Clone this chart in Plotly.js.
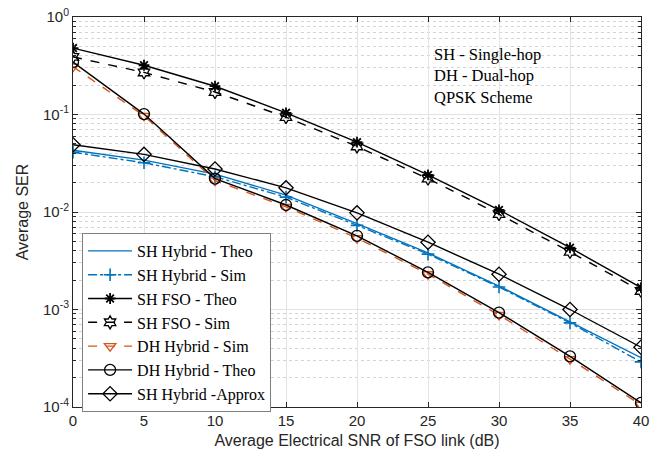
<!DOCTYPE html>
<html><head><meta charset="utf-8">
<script src="https://cdn.plot.ly/plotly-3.0.1.min.js"></script>
<style>body{margin:0;background:#fff}#c{width:656px;height:455px}</style>
</head><body><div id="c"></div>
<script>
const snr = [0,5,10,15,20,25,30,35,40];
const shHybridTheo = [0.043,0.034,0.0245,0.0149,0.0076,0.0038,0.00174,0.00075,0.00032];
const shHybridSim  = [0.041,0.032,0.023,0.0142,0.0073,0.0037,0.0017,0.00073,0.00029];
const shFsoTheo    = [0.48,0.32,0.195,0.104,0.052,0.024,0.0105,0.0043,0.00168];
const shFsoSim     = [0.39,0.27,0.17,0.094,0.047,0.022,0.0095,0.0039,0.00155];
const dhHybridSim  = [0.31,0.097,0.021,0.0113,0.0054,0.0023,0.00088,0.00031,0.000105];
const dhHybridTheo = [0.345,0.101,0.022,0.0118,0.0057,0.0024,0.00093,0.00033,0.00011];
const shHybridApprox = [0.049,0.039,0.0276,0.0177,0.0098,0.0049,0.0023,0.001,0.00041];
const yTickVals = [1e-4,1e-3,1e-2,1e-1,1];
const yTickText = ['10<sup>-4</sup>','10<sup>-3</sup>','10<sup>-2</sup>','10<sup>-1</sup>','10<sup>0</sup>'];
const xTickVals = [0,5,10,15,20,25,30,35,40];

const blue='#0072BD', orange='#D95319';
const minorVals=[];
for(let e=-4;e<0;e++){for(let m=2;m<=9;m++){minorVals.push(m*Math.pow(10,e));}}

const traces=[
 {name:'SH Hybrid - Theo',x:snr,y:shHybridTheo,mode:'lines',line:{color:blue,width:1.4}},
 {name:'SH Hybrid - Sim',x:snr,y:shHybridSim,mode:'lines+markers',line:{color:blue,width:1.4,dash:'dashdot'},marker:{symbol:'cross-thin-open',size:9,line:{color:blue,width:1.6}}},
 {name:'SH FSO - Theo',x:snr,y:shFsoTheo,mode:'lines+markers',line:{color:'#000',width:1.4},marker:{symbol:'asterisk-open',size:9,line:{color:'#000',width:1.8}}},
 {name:'SH FSO - Sim',x:snr,y:shFsoSim,mode:'lines+markers',line:{color:'#000',width:1.4,dash:'dash'},marker:{symbol:'hexagram-open',size:10,color:'#000',line:{color:'#000',width:1.3}}},
 {name:'DH Hybrid - Sim',x:snr,y:dhHybridSim,mode:'lines+markers',line:{color:orange,width:1.4,dash:'dash'},marker:{symbol:'triangle-down-open',size:10,color:orange,line:{color:orange,width:1.3}}},
 {name:'DH Hybrid - Theo',x:snr,y:dhHybridTheo,mode:'lines+markers',line:{color:'#000',width:1.4},marker:{symbol:'circle-open',size:11,color:'#000',line:{color:'#000',width:1.3}}},
 {name:'SH Hybrid -Approx',x:snr,y:shHybridApprox,mode:'lines+markers',line:{color:'#000',width:1.4},marker:{symbol:'diamond-open',size:11,color:'#000',line:{color:'#000',width:1.3}}}
];

const layout={
 width:656,height:455,
 margin:{l:73,r:15,t:17,b:48},
 paper_bgcolor:'#fff',plot_bgcolor:'#fff',
 showlegend:true,
 legend:{x:0.016,y:(407-233)/390,xanchor:'left',yanchor:'top',bgcolor:'#fff',bordercolor:'#808080',borderwidth:1,
   font:{family:'Liberation Serif, Times New Roman, serif',size:16,color:'#000'},tracegroupgap:0,itemwidth:44},
 xaxis:{range:[0,40],tickvals:xTickVals,ticks:'inside',ticklen:5,tickcolor:'#262626',
   showgrid:true,gridcolor:'#e3e3e3',gridwidth:1,zeroline:false,
   showline:true,linecolor:'#262626',linewidth:1,mirror:'ticks',
   tickfont:{family:'Liberation Sans, Arial, sans-serif',size:15,color:'#262626'},
   title:{text:'Average Electrical SNR of FSO link (dB)',font:{family:'Liberation Sans, Arial, sans-serif',size:16,color:'#262626'},standoff:6}},
 yaxis:{type:'log',range:[-4,0],tickvals:yTickVals,ticktext:yTickText,ticks:'inside',ticklen:5,tickcolor:'#262626',
   showgrid:true,gridcolor:'#e3e3e3',gridwidth:1,zeroline:false,
   showline:true,linecolor:'#262626',linewidth:1,mirror:'ticks',
   tickfont:{family:'Liberation Sans, Arial, sans-serif',size:15,color:'#262626'},
   minor:{tickvals:minorVals,ticks:'inside',ticklen:3,tickcolor:'#262626',showgrid:true,gridcolor:'#d4d4d4',griddash:'dot',gridwidth:1},
   title:{text:'Average SER',font:{family:'Liberation Sans, Arial, sans-serif',size:16,color:'#262626'},standoff:10}},
 annotations:[{xref:'paper',yref:'paper',x:(432-73)/568,y:(407-43)/390,xanchor:'left',yanchor:'top',align:'left',showarrow:false,
   text:'SH - Single-hop<br>DH - Dual-hop<br>QPSK Scheme',font:{family:'Liberation Serif, Times New Roman, serif',size:16.5,color:'#000'}}]
};
Plotly.newPlot('c',traces,layout,{displayModeBar:false,staticPlot:true});
</script></body></html>
